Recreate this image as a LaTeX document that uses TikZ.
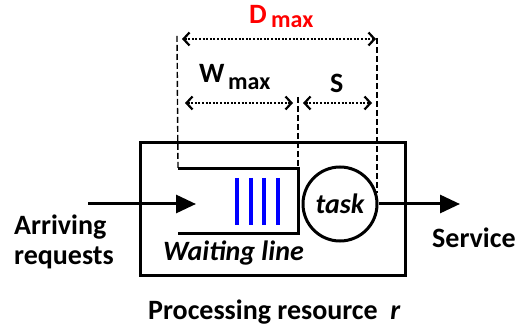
\documentclass[tikz,border=0pt]{standalone}
\usepackage{fontspec}
\setmainfont{Carlito}
\usetikzlibrary{arrows.meta}
\begin{document}
\begin{tikzpicture}[x=1pt,y=-1pt,
  lbl/.style={font=\fontsize{28}{30}\selectfont\bfseries, inner sep=0pt},
  sub/.style={font=\fontsize{24}{28}\selectfont\bfseries, inner sep=0pt},
  frame/.style={draw, line width=3pt},
  guide/.style={line width=1.4pt, dash pattern=on 6pt off 3pt},
  dim/.style={line width=2.4pt, dash pattern=on 2pt off 1.6pt, {Straight Barb[length=6pt,width=13pt,line width=2.2pt,sep=0pt]}-{Straight Barb[length=6pt,width=13pt,line width=2.2pt]}},
  flow/.style={line width=3pt, -{Triangle[length=20pt,width=18pt]}},
  bar/.style={blue, line width=4pt}]
\useasboundingbox (0,0) rectangle (516,328);
% resource box
\node[frame, minimum width=265pt, minimum height=133pt, inner sep=0pt] (res) at (272.5,209.5) {};
% queue
\coordinate (qtl) at (178,169);
\coordinate (qtr) at (298,169);
\coordinate (qbr) at (298,234);
\coordinate (qbl) at (178,234);
\draw[line width=3pt] (qtl) -- (qtr) -- (qbr) -- (qbl);
% blue bars
\foreach \x/\n in {237/b1,251/b2,264/b3,278/b4}{
  \coordinate (\n t) at (\x,178);
  \coordinate (\n b) at (\x,225);
  \draw[bar] (\n t) -- (\n b);
}
% server circle
\node[circle, draw, line width=3pt, minimum size=74pt, inner sep=0pt,
      font=\fontsize{28}{30}\selectfont\bfseries\itshape] (task) at (340,204) {task};
% flows
\coordinate (in) at (88,204);
\coordinate (qin) at (196,204);
\coordinate (out) at (460,204);
\draw[flow] (in) -- (qin);
\draw[flow] (task.east) -- (out);
% guide lines
\coordinate (gl) at (177,36);
\coordinate (gm) at (298,97);
\coordinate (gr) at (377,38);
\coordinate (gre) at (377,193);
\draw[guide] (gl) -- (qtl);
\draw[guide] (gm) -- (qtr);
\draw[guide] (gr) -- (gre);
% dimension arrows
\coordinate (d1) at (182,39);
\coordinate (d2) at (376,39);
\coordinate (w1) at (185,103);
\coordinate (w2) at (293,103);
\coordinate (s1) at (303,103);
\coordinate (s2) at (372,103);
\draw[dim] (d1) -- (d2);
\draw[dim] (w1) -- (w2);
\draw[dim] (s1) -- (s2);
% labels
\node[lbl, red, anchor=base west] (dl) at (249,24) {D};
\node[sub, red, anchor=base west] (dls) at (271,28) {max};
\node[lbl, anchor=base west] (wl) at (199,83) {W};
\node[sub, anchor=base west] (wls) at (228,90) {max};
\node[lbl, anchor=base west] (sl) at (330,93) {S};
\node[lbl, anchor=base west, align=left] (arr) at (14,265) {Arriving\\requests};
\node[lbl, anchor=base west, font=\fontsize{28}{30}\selectfont\bfseries\itshape] (wait) at (163,261) {Waiting line};
\node[lbl, anchor=base west] (serv) at (432,248) {Service};
\node[lbl, anchor=base west] (proc) at (148,319) {Processing resource \ \textit{r}};
\end{tikzpicture}
\end{document}
